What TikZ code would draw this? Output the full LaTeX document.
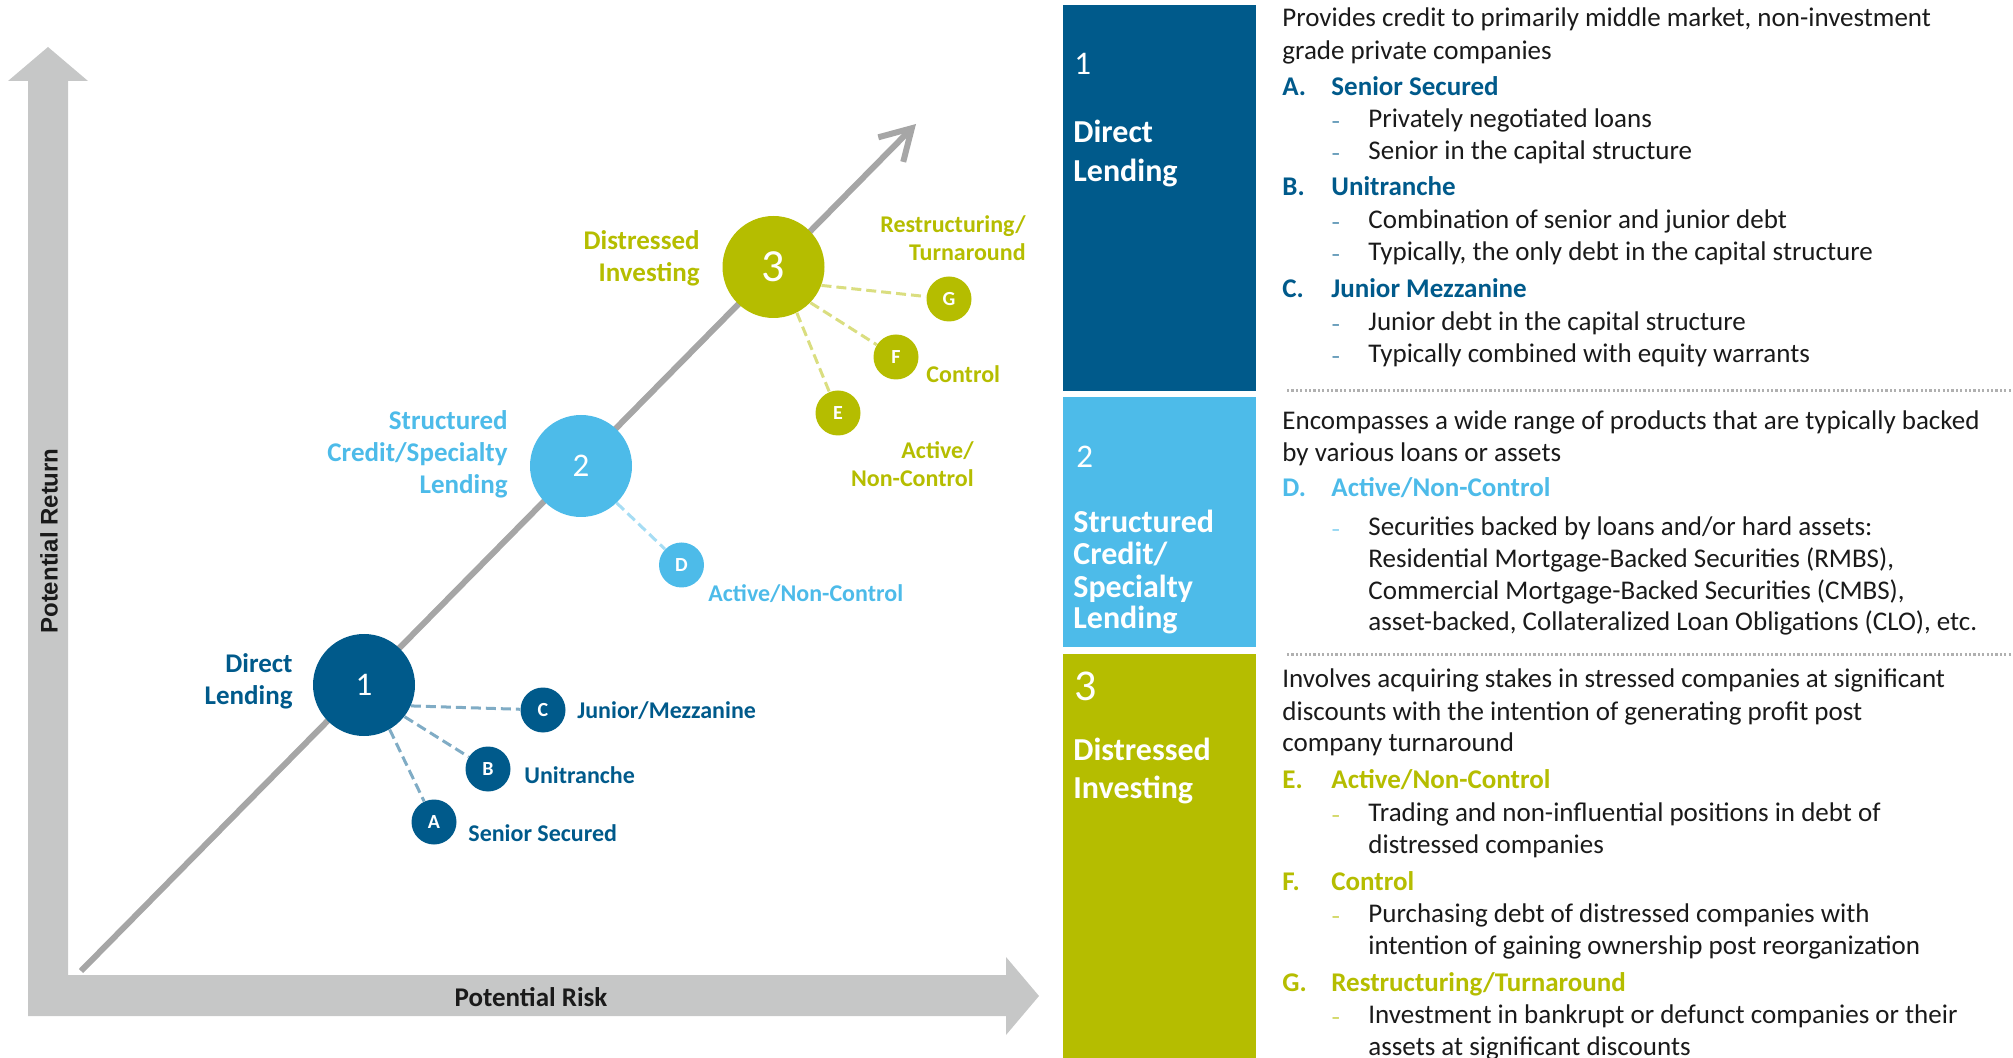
\documentclass[tikz,border=0pt]{standalone}
\usepackage{fontspec}
\setmainfont{Carlito}
\newfontfamily\arialf{Liberation Sans}
\usetikzlibrary{arrows.meta}
\definecolor{dblue}{HTML}{005A8B}
\definecolor{lblue}{HTML}{4DBBE9}
\definecolor{ogreen}{HTML}{B5BD00}
\definecolor{axisgray}{HTML}{C6C7C7}
\definecolor{diaggray}{HTML}{A6A6A6}
\definecolor{sepgray}{HTML}{B0B0B0}
\definecolor{txt}{HTML}{1A1A1A}
\newcommand\RB[3]{\node[bodyt] (#1) at (1282,#2) {#3};}
\newcommand\RS[4]{\node[bult=#2] (#1d) at (1331,#3) {–}; \node[bodyt] (#1) at (1368,#3) {#4};}
\newcommand\RC[3]{\node[bodyt] (#1) at (1368,#2) {#3};}
\newcommand\RH[5]{\node[headt=#2] (#1l) at (1282,#3) {#4}; \node[headt=#2] (#1) at (1331,#3) {#5};}
\begin{document}
\begin{tikzpicture}[x=0.5pt,y=-0.5pt,
  bigc/.style={circle, fill=#1, minimum size=51pt, inner sep=0pt, text=white, font=\fontsize{16.5}{18}\selectfont},
  smallc/.style={circle, fill=#1, minimum size=22.5pt, inner sep=0pt, text=white, font=\bfseries\fontsize{10}{12}\selectfont},
  labb/.style={inner sep=0pt, text=#1, font=\bfseries\fontsize{13.5}{16}\selectfont},
  labs/.style={inner sep=0pt, text=#1, font=\bfseries\fontsize{12}{14.2}\selectfont},
  connd/.style={draw=#1!50, line width=1.5pt, dash pattern=on 5pt off 2.5pt},
  boxnum/.style={inner sep=0pt, text=white, font=\fontsize{16.5}{19}\selectfont, anchor=base west},
  boxtext/.style={inner sep=0pt, text=white, font=\bfseries\fontsize{16}{19}\selectfont, anchor=base west},
  bodyt/.style={inner sep=0pt, text=txt, font=\fontsize{13.5}{16}\selectfont, anchor=base west},
  headt/.style={inner sep=0pt, text=#1, font=\bfseries\fontsize{13.5}{16}\selectfont, anchor=base west},
  bult/.style={inner sep=0pt, text=#1, font=\fontsize{9}{10}\selectfont, anchor=base west},
  sep/.style={draw=sepgray, line width=1.5pt, dash pattern=on 1.1pt off 1.1pt},
]
\useasboundingbox (0,0) rectangle (2013,1058);
% axes
\fill[axisgray] (28,81) -- (8,81) -- (48,47) -- (88,81) -- (68,81) -- (68,975) -- (1006,975) -- (1006,957) -- (1039,996) -- (1006,1035) -- (1006,1016) -- (28,1016) -- cycle;
\node[rotate=90, inner sep=0pt, text=txt, font=\arialf\bfseries\fontsize{12}{14}\selectfont] (yl) at (49,541) {Potential Return};
\node[inner sep=0pt, text=txt, font=\bfseries\fontsize{13.5}{16}\selectfont] (xl) at (531,997) {Potential Risk};
% diagonal
\coordinate (d0) at (81,971);
\coordinate (d1) at (916,124);
\draw[diaggray, line width=3pt, -{Straight Barb[length=15pt,width=17.5pt]}] (d0) -- (d1);
% circles
\node[bigc=dblue] (c1) at (364,685) {\raisebox{-3pt}{1}};
\node[bigc=lblue] (c2) at (581,466) {\raisebox{-3pt}{2}};
\node[bigc=ogreen, font=\fontsize{23}{25}\selectfont] (c3) at (773.5,267) {\raisebox{-4pt}{3}};
\node[smallc=dblue] (A) at (434,822) {A};
\node[smallc=dblue] (B) at (488,769) {B};
\node[smallc=dblue] (C) at (543,710) {C};
\node[smallc=lblue] (D) at (681.5,565) {D};
\node[smallc=ogreen] (E) at (838,413) {E};
\node[smallc=ogreen] (F) at (896,357) {F};
\node[smallc=ogreen] (G) at (949,299) {G};
% connectors
\draw[connd=dblue] (c1.-24) -- (C);
\draw[connd=dblue] (c1.-38) -- (B);
\draw[connd=dblue] (c1.-60) -- (A);
\draw[connd=lblue] (c2.-46) -- (D);
\draw[connd=ogreen] (c3.-21) -- (G);
\draw[connd=ogreen] (c3.-44) -- (F);
\draw[connd=ogreen] (c3.-63) -- (E);
% chart labels
\node[labb=dblue, align=right, anchor=east] (l1) at (293,681) {Direct\\Lending};
\node[labs=dblue, anchor=west] (lC) at (577,711) {Junior/Mezzanine};
\node[labs=dblue, anchor=west] (lB) at (524,775) {Unitranche};
\node[labs=dblue, anchor=west] (lA) at (468,833) {Senior Secured};
\node[labs=lblue, anchor=west] (lD) at (708,594) {Active/Non-Control};
\node[labb=lblue, align=right, anchor=east] (l2) at (508,454) {Structured\\Credit/Specialty\\Lending};
\node[labb=ogreen, align=right, anchor=east] (l3) at (700,258) {Distressed\\Investing};
\node[labs=ogreen, align=right, anchor=east] (lG) at (1026,238) {Restructuring/\\Turnaround};
\node[labs=ogreen, anchor=west] (lF) at (926,374) {Control};
\node[labs=ogreen, align=right, anchor=east] (lE) at (974,464) {Active/\\Non-Control};
% right boxes
\fill[dblue] (1063,5) rectangle (1256,391);
\fill[lblue] (1063,397) rectangle (1256,647);
\fill[ogreen] (1063,654) rectangle (1256,1058);
\node[boxnum] (n1) at (1074,75) {1};
\node[boxtext] (n1a) at (1073,143) {Direct};
\node[boxtext] (n1b) at (1073,182) {Lending};
\node[boxnum] (n2) at (1076,468) {2};
\node[boxtext] (n2a) at (1073,533) {Structured};
\node[boxtext] (n2b) at (1073,565) {Credit/};
\node[boxtext] (n2c) at (1073,597) {Specialty};
\node[boxtext] (n2d) at (1073,628) {Lending};
\node[boxnum, font=\fontsize{22}{24}\selectfont] (n3) at (1074,700) {3};
\node[boxtext] (n3a) at (1073,760) {Distressed};
\node[boxtext] (n3b) at (1073,798) {Investing};
% separators
\coordinate (s1a) at (1287,391); \coordinate (s1b) at (2013,391);
\coordinate (s2a) at (1287,654); \coordinate (s2b) at (2013,654);
\draw[sep] (s1a) -- (s1b);
\draw[sep] (s2a) -- (s2b);
% right text block 1
\RB{p1a}{27}{Provides credit to primarily middle market, non-investment}
\RB{p1b}{60}{grade private companies}
\RH{hA}{dblue}{96}{A.}{Senior Secured}
\RS{a1}{dblue}{128}{Privately negotiated loans}
\RS{a2}{dblue}{160}{Senior in the capital structure}
\RH{hB}{dblue}{196}{B.}{Unitranche}
\RS{b1}{dblue}{229}{Combination of senior and junior debt}
\RS{b2}{dblue}{261}{Typically, the only debt in the capital structure}
\RH{hC}{dblue}{298}{C.}{Junior Mezzanine}
\RS{c1t}{dblue}{331}{Junior debt in the capital structure}
\RS{c2t}{dblue}{363}{Typically combined with equity warrants}
% block 2
\RB{p2a}{430}{Encompasses a wide range of products that are typically backed}
\RB{p2b}{462}{by various loans or assets}
\RH{hD}{lblue}{497}{D.}{Active/Non-Control}
\RS{d1}{lblue}{536}{Securities backed by loans and/or hard assets:}
\RC{d2}{568}{Residential Mortgage-Backed Securities (RMBS),}
\RC{d3}{600}{Commercial Mortgage-Backed Securities (CMBS),}
\RC{d4}{631}{asset-backed, Collateralized Loan Obligations (CLO), etc.}
% block 3
\RB{p3a}{687}{Involves acquiring stakes in stressed companies at significant}
\RB{p3b}{720}{discounts with the intention of generating profit post}
\RB{p3c}{751}{company turnaround}
\RH{hE}{ogreen}{788}{E.}{Active/Non-Control}
\RS{e1}{ogreen}{821}{Trading and non-influential positions in debt of}
\RC{e2}{853}{distressed companies}
\RH{hF}{ogreen}{890}{F.}{Control}
\RS{f1}{ogreen}{922}{Purchasing debt of distressed companies with}
\RC{f2}{954}{intention of gaining ownership post reorganization}
\RH{hG}{ogreen}{991}{G.}{Restructuring/Turnaround}
\RS{g1}{ogreen}{1023}{Investment in bankrupt or defunct companies or their}
\RC{g2}{1055}{assets at significant discounts}
\end{tikzpicture}
\end{document}
